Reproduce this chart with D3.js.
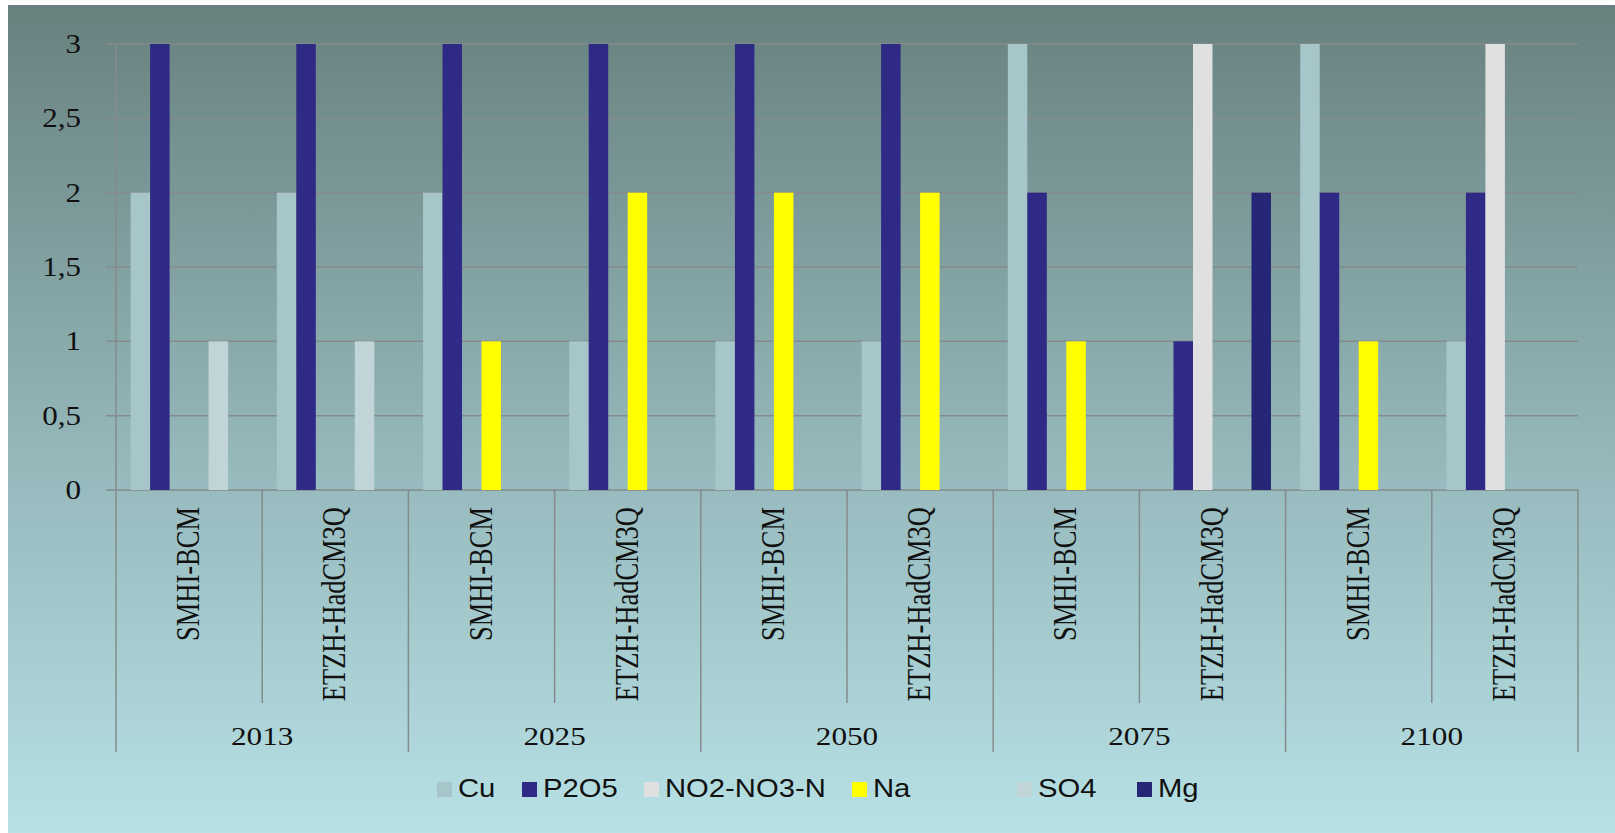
<!DOCTYPE html>
<html>
<head>
<meta charset="utf-8">
<script src="https://cdn.jsdelivr.net/npm/d3@7"></script>
<style>
  html, body { margin: 0; padding: 0; background: #ffffff; }
  svg { display: block; }
</style>
</head>
<body>
<svg id="chart" width="1615" height="833"></svg>
<script>
// Scenario years and the two climate models per year
const years = ["2013", "2025", "2050", "2075", "2100"];
const models = ["SMHI-BCM", "ETZH-HadCM3Q"];

// Series names and colours
const seriesNames = ["Cu", "P2O5", "NO2-NO3-N", "Na", "SO4", "Mg"];
const seriesColors = ["#a6c6ca", "#2e2a85", "#e0e0e0", "#ffff00", "#c1d5d9", "#262676"];

// Values per category (year × model, in order)
const cu      = [2, 2, 2, 1, 1, 1, 3, 0, 3, 1];
const p2o5    = [3, 3, 3, 3, 3, 3, 2, 1, 2, 2];
const no2no3n = [0, 0, 0, 0, 0, 0, 0, 3, 0, 3];
const na      = [0, 0, 1, 2, 2, 2, 1, 0, 1, 0];
const so4     = [1, 1, 0, 0, 0, 0, 0, 0, 0, 0];
const mg      = [0, 0, 0, 0, 0, 0, 0, 2, 0, 0];

const yTicks = [0, 0.5, 1, 1.5, 2, 2.5, 3];

const seriesValues = [cu, p2o5, no2no3n, na, so4, mg];
const categories = [];
years.forEach(y => models.forEach(m => categories.push({ year: y, model: m })));

const svg = d3.select("#chart");
const W = 1615, H = 833;

// Background panel with vertical gradient
const defs = svg.append("defs");
const grad = defs.append("linearGradient")
  .attr("id", "bg").attr("x1", 0).attr("y1", 0).attr("x2", 0).attr("y2", 1);
grad.append("stop").attr("offset", "0%").attr("stop-color", "#68817f");
grad.append("stop").attr("offset", "55%").attr("stop-color", "#95b8bb");
grad.append("stop").attr("offset", "100%").attr("stop-color", "#b7e1e5");
svg.append("rect").attr("x", 8).attr("y", 5).attr("width", W - 8).attr("height", H - 5)
  .attr("fill", "url(#bg)");

const plotLeft = 116, plotRight = 1578, plotTop = 44, plotBase = 490;

const x = d3.scaleBand().domain(d3.range(categories.length)).range([plotLeft, plotRight]).padding(0);
const xs = d3.scaleBand().domain(seriesNames).range([0, x.bandwidth()])
  .paddingInner(0).paddingOuter(0.75);
const y = d3.scaleLinear().domain([0, 3]).range([plotBase, plotTop]);

const gridColor = "#858b8c";

// Horizontal gridlines
svg.append("g").selectAll("line").data(yTicks).join("line")
  .attr("x1", plotLeft - 10).attr("x2", plotRight)
  .attr("y1", d => y(d)).attr("y2", d => y(d))
  .attr("stroke", gridColor).attr("stroke-width", 1.5);

// Y axis labels
const fmt = d => String(d).replace(".", ",");
svg.append("g").selectAll("text").data(yTicks).join("text")
  .attr("transform", d => `translate(81,${y(d) + 9}) scale(1.15,1)`)
  .attr("text-anchor", "end")
  .attr("font-family", "Liberation Serif, Times New Roman, serif")
  .attr("font-size", 27)
  .attr("fill", "#111")
  .text(fmt);

// Bars
const barData = [];
categories.forEach((c, i) => {
  seriesNames.forEach((s, j) => {
    const v = seriesValues[j][i];
    if (v > 0) barData.push({ i, s, v, color: seriesColors[j] });
  });
});
svg.append("g").selectAll("rect").data(barData).join("rect")
  .attr("x", d => x(d.i) + xs(d.s))
  .attr("y", d => y(d.v))
  .attr("width", xs.bandwidth())
  .attr("height", d => y(0) - y(d.v))
  .attr("fill", d => d.color);

// Vertical axis line
svg.append("line").attr("x1", plotLeft).attr("x2", plotLeft).attr("y1", plotTop).attr("y2", 752)
  .attr("stroke", gridColor).attr("stroke-width", 1.5);

// Category separators: model-level short ones, year-level long ones
d3.range(1, categories.length + 1).forEach(k => {
  const xx = k === categories.length ? plotRight : x(k);
  const long = k % models.length === 0;
  svg.append("line").attr("x1", xx).attr("x2", xx)
    .attr("y1", plotBase).attr("y2", long ? 752 : 703)
    .attr("stroke", gridColor).attr("stroke-width", 1.5);
});

// Rotated model labels
svg.append("g").selectAll("text").data(categories).join("text")
  .attr("transform", (d, i) => `translate(${x(i) + x.bandwidth() / 2 + 10},507) scale(1.3,1) rotate(-90)`)
  .attr("text-anchor", "end")
  .attr("font-family", "Liberation Serif, Times New Roman, serif")
  .attr("font-size", 26.5)
  .attr("fill", "#111")
  .text(d => d.model);

// Year labels
svg.append("g").selectAll("text").data(years).join("text")
  .attr("transform", (d, i) => `translate(${x(i * 2) + x.bandwidth()},745) scale(1.2,1)`)
  .attr("text-anchor", "middle")
  .attr("font-family", "Liberation Serif, Times New Roman, serif")
  .attr("font-size", 26)
  .attr("fill", "#111")
  .text(d => d);

// Legend
const legendX = [437, 522, 644, 852, 1017, 1137];
const lg = svg.append("g");
seriesNames.forEach((s, j) => {
  lg.append("rect").attr("x", legendX[j]).attr("y", 782).attr("width", 15).attr("height", 15)
    .attr("fill", seriesColors[j]);
  lg.append("text")
    .attr("transform", `translate(${legendX[j] + 21},797) scale(1.17,1)`)
    .attr("font-family", "Liberation Sans, Arial, sans-serif")
    .attr("font-size", 25)
    .attr("fill", "#111")
    .text(s);
});
</script>
</body>
</html>
